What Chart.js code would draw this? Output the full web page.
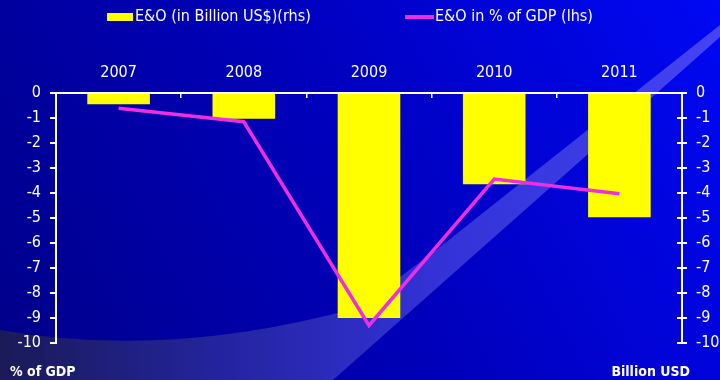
<!DOCTYPE html>
<html>
<head>
<meta charset="utf-8">
<title>E&amp;O</title>
<script src="https://cdn.jsdelivr.net/npm/chart.js@4/dist/chart.umd.min.js"></script>
<style>
  html, body { margin: 0; padding: 0; background: #00008c; }
  canvas { display: block; }
</style>
</head>
<body>
<canvas id="eoChart" width="720" height="380"></canvas>
<script>
const years = ["2007", "2008", "2009", "2010", "2011"];
const eoBillionUsd = [-0.45, -1.03, -9.0, -3.65, -4.97];
const eoPctGdp = [-0.61, -1.15, -9.3, -3.44, -4.03];
const axisMin = -10;
const axisMax = 0;

const FONT = "'DejaVu Sans Condensed', 'DejaVu Sans', sans-serif";
const YELLOW = "#ffff00";
const MAGENTA = "#ee2ee0";

// blue backdrop with the pale swoosh across the lower left
const backdrop = {
    id: "backdrop",
    beforeDraw(chart) {
        const ctx = chart.ctx;
        const w = chart.width, h = chart.height;
        ctx.save();

        let g = ctx.createLinearGradient(0, h, w, 0);
        g.addColorStop(0, "#000088");
        g.addColorStop(0.5, "#0000bc");
        g.addColorStop(1, "#0008f4");
        ctx.fillStyle = g;
        ctx.fillRect(0, 0, w, h);

        ctx.beginPath();
        ctx.moveTo(0, 330);
        ctx.quadraticCurveTo(170, 360, 360, 307);
        ctx.lineTo(440, 247);
        ctx.lineTo(w, 25);
        ctx.lineTo(w, 37);
        ctx.lineTo(333, h);
        ctx.lineTo(0, h);
        ctx.closePath();
        g = ctx.createLinearGradient(0, 0, w, 0);
        g.addColorStop(0, "#1a1a58");
        g.addColorStop(0.32, "#2424a2");
        g.addColorStop(0.6, "#3232d6");
        g.addColorStop(1, "#4444f4");
        ctx.fillStyle = g;
        ctx.fill();

        ctx.restore();
    },
    afterDraw(chart) {
        const ctx = chart.ctx;
        const right = chart.scales.y1;
        ctx.save();
        // right axis ticks cross the axis line
        ctx.strokeStyle = "#ffffff";
        ctx.lineWidth = 2;
        right.ticks.forEach(t => {
            const y = Math.round(right.getPixelForValue(t.value));
            ctx.beginPath();
            ctx.moveTo(right.left - 5, y);
            ctx.lineTo(right.left, y);
            ctx.stroke();
        });

        // legend row: bar swatch, then line swatch
        const [bars, line] = chart.data.datasets;
        ctx.fillStyle = bars.backgroundColor;
        ctx.fillRect(107, 13, 26, 8);
        ctx.strokeStyle = line.borderColor;
        ctx.lineWidth = 4;
        ctx.beginPath();
        ctx.moveTo(405, 17);
        ctx.lineTo(434, 17);
        ctx.stroke();

        ctx.fillStyle = "#ffffff";
        ctx.font = "16px " + FONT;
        ctx.textBaseline = "middle";
        ctx.textAlign = "left";
        ctx.fillText(bars.label, 135, 17);
        ctx.fillText(line.label, 435, 17);

        ctx.font = "bold 14px " + FONT;
        ctx.textBaseline = "alphabetic";
        ctx.fillText("% of GDP", 10, 376);
        ctx.textAlign = "right";
        ctx.fillText("Billion USD", 690, 376);
        ctx.restore();
    }
};

new Chart(document.getElementById("eoChart"), {
    data: {
        labels: years,
        datasets: [
            {
                type: "bar",
                label: "E&O (in Billion US$)(rhs)",
                data: eoBillionUsd,
                yAxisID: "y1",
                backgroundColor: YELLOW,
                borderWidth: 0,
                categoryPercentage: 1,
                barPercentage: 0.5,
                order: 2
            },
            {
                type: "line",
                label: "E&O in % of GDP (lhs)",
                data: eoPctGdp,
                yAxisID: "y",
                borderColor: MAGENTA,
                backgroundColor: MAGENTA,
                borderWidth: 3.5,
                pointRadius: 0,
                tension: 0,
                order: 1
            }
        ]
    },
    options: {
        responsive: false,
        animation: false,
        layout: { padding: { bottom: 37 } },
        plugins: {
            tooltip: { enabled: false },
            legend: { display: false }
        },
        scales: {
            x: {
                position: "top",
                offset: true,
                grid: {
                    offset: true,
                    drawOnChartArea: false,
                    color: "#ffffff",
                    lineWidth: 1.5,
                    tickLength: -5
                },
                border: { color: "#ffffff", width: 2 },
                ticks: {
                    color: "#ffffff",
                    font: { family: FONT, size: 16 },
                    padding: 16
                },
                afterFit(s) { s.height = 93; }
            },
            y: {
                position: "left",
                min: axisMin,
                max: axisMax,
                grid: {
                    drawOnChartArea: false,
                    color: "#ffffff",
                    lineWidth: 2,
                    tickLength: 6
                },
                border: { color: "#ffffff", width: 2 },
                ticks: {
                    stepSize: 1,
                    color: "#ffffff",
                    font: { family: FONT, size: 16 },
                    padding: 9
                },
                afterFit(s) { s.width = 56; }
            },
            y1: {
                position: "right",
                min: axisMin,
                max: axisMax,
                grid: {
                    drawOnChartArea: false,
                    color: "#ffffff",
                    lineWidth: 2,
                    tickLength: 5
                },
                border: { color: "#ffffff", width: 2 },
                ticks: {
                    stepSize: 1,
                    color: "#ffffff",
                    font: { family: FONT, size: 16 },
                    padding: 9
                },
                afterFit(s) { s.width = 38; }
            }
        }
    },
    plugins: [backdrop]
});
</script>
</body>
</html>
